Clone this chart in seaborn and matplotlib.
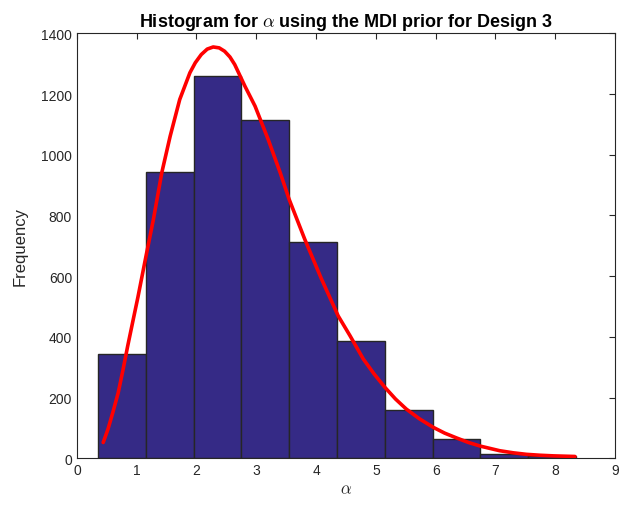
import numpy as np
import pandas as pd
import matplotlib
matplotlib.use("Agg")
import matplotlib.pyplot as plt
import seaborn as sns

# Histogram of posterior draws of alpha (bin counts) and fitted density curve
bin_start = 0.355
bin_end = 8.345
counts = [344, 943, 1258, 1114, 711, 388, 158, 63, 15, 9]

curve_x = [0.44, 0.52, 0.60, 0.69, 0.77, 0.85, 0.94, 1.02, 1.08, 1.16, 1.28,
           1.42, 1.56, 1.72, 1.89, 1.98, 2.08, 2.18, 2.28, 2.38, 2.47, 2.56,
           2.64, 2.81, 2.98, 3.20, 3.40, 3.55, 3.81, 4.09, 4.37, 4.57, 4.79,
           4.97, 5.15, 5.33, 5.51, 5.73, 5.96, 6.15, 6.35, 6.55, 6.75, 7.07,
           7.30, 7.52, 7.75, 7.97, 8.33]
curve_y = [52, 96, 150, 215, 290, 370, 455, 530, 590, 670, 787,
           941, 1061, 1182, 1270, 1303, 1330, 1348, 1355, 1352, 1341, 1322,
           1297, 1226, 1160, 1050, 941, 853, 722, 591, 469, 403, 327,
           278, 234, 195, 162, 130, 102, 83, 67, 52, 40, 25,
           18, 13, 10, 8, 6]

x_ticks = [0, 1, 2, 3, 4, 5, 6, 7, 8, 9]
y_ticks = [0, 200, 400, 600, 800, 1000, 1200, 1400]

sns.set_style("white")
plt.rcParams["font.family"] = ["Liberation Sans", "DejaVu Sans"]
plt.rcParams["mathtext.fontset"] = "cm"

n_bins = len(counts)
width = (bin_end - bin_start) / n_bins
centers = [bin_start + width * (i + 0.5) for i in range(n_bins)]
hist_df = pd.DataFrame({"alpha": centers, "count": counts})
curve_df = pd.DataFrame({"alpha": curve_x, "freq": curve_y})

fig = plt.figure(figsize=(6.2, 5.06), dpi=100)
ax = fig.add_axes([0.124, 0.0923, 0.868, 0.8399])

sns.histplot(data=hist_df, x="alpha", weights="count", bins=n_bins,
             binrange=(bin_start, bin_end), color="#352a86",
             edgecolor="#262626", linewidth=1.0, alpha=1.0, ax=ax)
sns.lineplot(data=curve_df, x="alpha", y="freq", color="#ff0000",
             linewidth=2.6, ax=ax, zorder=5)
ax.lines[-1].set_solid_joinstyle("round")

ax.set_xlim(0, 9)
ax.set_ylim(0, 1400)
ax.set_xticks(x_ticks)
ax.set_yticks(y_ticks)
ax.tick_params(axis="both", direction="in", length=4, width=0.8,
               colors="#262626", labelsize=10, top=True, right=True)
for s in ax.spines.values():
    s.set_color("#262626")
    s.set_linewidth(0.8)

ax.set_xlabel(r"$\alpha$", fontsize=12, color="#262626", labelpad=3)
ax.set_ylabel("Frequency", fontsize=12, color="#262626", labelpad=10)
ax.set_title(r"Histogram for $\alpha$ using the MDI prior for Design 3",
             fontsize=13, fontweight="bold", color="black", pad=5)

fig.savefig("out.png", dpi=100)
